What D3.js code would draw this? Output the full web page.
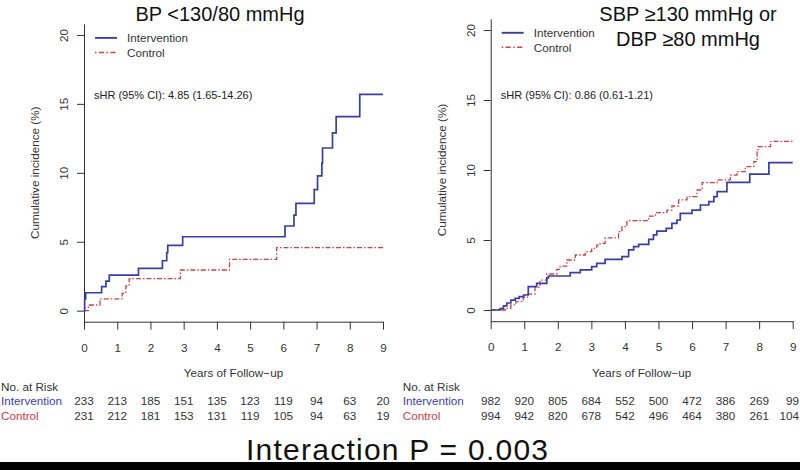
<!DOCTYPE html>
<html>
<head>
<meta charset="utf-8">
<script src="https://cdn.jsdelivr.net/npm/d3@7"></script>
<style>
  html, body { margin: 0; padding: 0; background: #fff; }
  svg { display: block; font-family: "Liberation Sans", Arial, sans-serif; }
</style>
</head>
<body>
<svg id="chart" width="800" height="470"></svg>
<script>
// --- data ---
const yearTicks = [0, 1, 2, 3, 4, 5, 6, 7, 8, 9];
const yTicks = [0, 5, 10, 15, 20];

// left panel: BP <130/80
const leftIntTimes = [0, 0.02, 0.05, 0.53, 0.66, 0.76, 1.64, 2.36, 2.49, 2.52, 2.97, 6.05, 6.32, 6.38, 6.93, 7.03, 7.16, 7.18, 7.48, 7.59, 8.30, 9.0];
const leftIntValues = [0, 0.86, 1.3, 1.74, 2.15, 2.58, 3.07, 3.62, 4.2, 4.73, 5.36, 6.14, 6.93, 7.78, 8.78, 9.77, 10.7, 11.8, 12.9, 14.07, 15.69, 15.69];
const leftCtlTimes = [0, 0.13, 0.48, 1.15, 1.26, 1.36, 2.9, 4.38, 5.8, 9.0];
const leftCtlValues = [0, 0.41, 0.85, 1.26, 1.79, 2.32, 2.95, 3.72, 4.57, 4.57];
const leftRiskInt = [233, 213, 185, 151, 135, 123, 119, 94, 63, 20];
const leftRiskCtl = [231, 212, 181, 153, 131, 119, 105, 94, 63, 19];

// right panel: SBP >=130 or DBP >=80
const rightIntTimes = [0, 0.28, 0.38, 0.48, 0.6, 0.73, 0.85, 0.98, 1.12, 1.37, 1.67, 1.72, 2.37, 2.67, 3.01, 3.16, 3.41, 3.91, 4.11, 4.26, 4.41, 4.71, 4.85, 4.95, 5.23, 5.40, 5.55, 5.65, 6.0, 6.25, 6.5, 6.65, 6.75, 7.04, 7.72, 8.29, 9.0];
const rightIntValues = [0, 0.1, 0.3, 0.5, 0.7, 0.83, 0.95, 1.07, 1.67, 1.9, 2.3, 2.43, 2.67, 2.86, 3.1, 3.33, 3.62, 3.81, 4.29, 4.52, 4.69, 5.05, 5.36, 5.64, 5.83, 6.19, 6.43, 6.9, 7.14, 7.5, 7.74, 8.1, 8.45, 9.12, 9.71, 10.52, 10.52];
const rightCtlTimes = [0, 0.48, 0.6, 0.75, 0.97, 1.1, 1.32, 1.47, 1.67, 1.97, 2.07, 2.27, 2.52, 2.82, 3.01, 3.16, 3.26, 3.41, 3.81, 3.91, 4.06, 4.71, 4.91, 5.25, 5.40, 5.60, 5.85, 6.15, 6.30, 6.75, 7.14, 7.34, 7.59, 7.84, 7.94, 7.97, 8.34, 9.0];
const rightCtlValues = [0, 0.12, 0.36, 0.6, 0.9, 1.14, 1.62, 2.14, 2.57, 2.9, 3.14, 3.57, 3.93, 4.17, 4.4, 4.64, 4.76, 5.15, 5.6, 5.95, 6.38, 6.71, 6.95, 7.14, 7.43, 7.86, 8.1, 8.57, 9.1, 9.29, 9.64, 9.88, 10.24, 10.6, 11.3, 11.67, 12.05, 12.05];
const rightRiskInt = [982, 920, 805, 684, 552, 500, 472, 386, 269, 99];
const rightRiskCtl = [994, 942, 820, 678, 542, 496, 464, 380, 261, 104];

const seriesNames = ["Intervention", "Control"];
const footerText = "Interaction P = 0.003";

const blue = "#3a3da6", red = "#cf3f43";
const blueText = "#3b3bc6", redText = "#d8383e";

const W = 800;
const svg = d3.select("#chart");

function drawPanel(p) {
    const x = d3.scaleLinear().domain([0, 9]).range([p.x0, p.x1]);
    // R style 4% padding on y
    const y = d3.scaleLinear().domain([-0.8, 20.8]).range([p.yBottom, p.yTop]);
    const g = svg.append("g");

    // y axis (full left side of the L box)
    const yAx = g.append("g")
        .attr("transform", `translate(${p.x0},0)`)
        .call(d3.axisLeft(y).tickValues(yTicks).tickSize(7).tickSizeOuter(0));
    yAx.selectAll("text")
        .attr("transform", "rotate(-90)")
        .attr("x", 0).attr("y", -16).attr("dy", 0)
        .attr("text-anchor", "middle");

    const xAx = g.append("g")
        .attr("transform", `translate(0,${p.yBottom})`)
        .call(d3.axisBottom(x).tickValues(yearTicks).tickSize(8).tickSizeOuter(0).tickPadding(14));

    [yAx, xAx].forEach(a => {
        a.select(".domain").attr("stroke", "#333");
        a.selectAll(".tick line").attr("stroke", "#333");
        a.selectAll("text").attr("fill", "#333").attr("font-size", 11.7)
            .attr("font-family", "Liberation Sans, Arial, sans-serif");
    });

    // axis titles
    g.append("text")
        .attr("transform", `translate(${p.x0 - 49},${(p.yTop + p.yBottom) / 2}) rotate(-90)`)
        .attr("text-anchor", "middle").attr("dy", "0.35em")
        .attr("font-size", 11.7).attr("fill", "#333")
        .text("Cumulative incidence (%)");
    g.append("text")
        .attr("x", (p.x0 + p.x1) / 2).attr("y", 377)
        .attr("text-anchor", "middle").attr("font-size", 11.7).attr("fill", "#333")
        .text("Years of Follow\u2212up");

    // step curves
    const line = d3.line().x(d => x(d[0])).y(d => y(d[1])).curve(d3.curveStepAfter);
    g.append("path")
        .datum(d3.zip(p.ctlTimes, p.ctlValues))
        .attr("d", line).attr("fill", "none")
        .attr("stroke", red).attr("stroke-width", 1.3)
        .attr("stroke-dasharray", "5,2,1.5,2");
    g.append("path")
        .datum(d3.zip(p.intTimes, p.intValues))
        .attr("d", line).attr("fill", "none")
        .attr("stroke", blue).attr("stroke-width", 1.7);

    // legend
    const lg = [{ c: blue, dash: null, w: 1.9 }, { c: red, dash: "1.5,2.5,5,2.5", w: 1.5 }];
    lg.forEach((l, i) => {
        const ly = p.yTop + 14 + i * 14.5;
        g.append("line")
            .attr("x1", p.x0 + 11).attr("x2", p.x0 + 33)
            .attr("y1", ly).attr("y2", ly)
            .attr("stroke", l.c).attr("stroke-width", l.w)
            .attr("stroke-dasharray", l.dash);
        g.append("text")
            .attr("x", p.x0 + 43).attr("y", ly + 4.2)
            .attr("font-size", 11.7).attr("fill", "#333")
            .text(seriesNames[i]);
    });

    g.append("text")
        .attr("x", p.x0 + 10).attr("y", 99)
        .attr("font-size", 11).attr("fill", "#222")
        .text(p.shr);

    // title
    p.title.forEach((t, i) => {
        g.append("text")
            .attr("x", p.titleX).attr("y", 21 + i * 25)
            .attr("text-anchor", "middle").attr("font-size", 20).attr("fill", "#111")
            .text(t);
    });

    // numbers at risk (labels kept inside the page)
    const labelX = Math.max(1, p.x0 - 88);
    g.append("text").attr("x", labelX).attr("y", 390.5)
        .attr("font-size", 11.7).attr("fill", "#333").text("No. at Risk");
    const rows = [
        { name: seriesNames[0], col: blueText, vals: p.riskInt, yy: 405 },
        { name: seriesNames[1], col: redText, vals: p.riskCtl, yy: 419.5 }
    ];
    rows.forEach(r => {
        g.append("text").attr("x", labelX).attr("y", r.yy)
            .attr("font-size", 11.7).attr("fill", r.col).text(r.name);
        g.selectAll(null)
            .data(r.vals)
            .enter().append("text")
            .attr("y", r.yy)
            .attr("font-size", 11.7).attr("fill", "#333")
            .text(d => d)
            .each(function (d, i) {
                // centre on the tick, but keep the number inside the page
                const t = d3.select(this);
                const cx = x(yearTicks[i]);
                const half = this.getComputedTextLength() / 2;
                if (cx + half > W - 1) t.attr("x", W - 1).attr("text-anchor", "end");
                else t.attr("x", cx).attr("text-anchor", "middle");
            });
    });
}

drawPanel({
    x0: 84, x1: 383, yTop: 23.9, yBottom: 321.7,
    title: ["BP <130/80 mmHg"], titleX: 220,
    shr: "sHR (95% CI): 4.85 (1.65-14.26)",
    intTimes: leftIntTimes, intValues: leftIntValues,
    ctlTimes: leftCtlTimes, ctlValues: leftCtlValues,
    riskInt: leftRiskInt, riskCtl: leftRiskCtl
});

drawPanel({
    x0: 490.7, x1: 792.7, yTop: 18.8, yBottom: 321.2,
    title: ["SBP \u2265130 mmHg or", "DBP \u226580 mmHg"], titleX: 688,
    shr: "sHR (95% CI): 0.86 (0.61-1.21)",
    intTimes: rightIntTimes, intValues: rightIntValues,
    ctlTimes: rightCtlTimes, ctlValues: rightCtlValues,
    riskInt: rightRiskInt, riskCtl: rightRiskCtl
});

// footer
svg.append("text")
    .attr("x", 246).attr("y", 460)
    .attr("font-size", 30).attr("fill", "#111")
    .attr("textLength", 302).attr("lengthAdjust", "spacing")
    .text(footerText);
svg.append("rect")
    .attr("x", 0).attr("y", 462).attr("width", W).attr("height", 8)
    .attr("fill", "#000");
</script>
</body>
</html>
